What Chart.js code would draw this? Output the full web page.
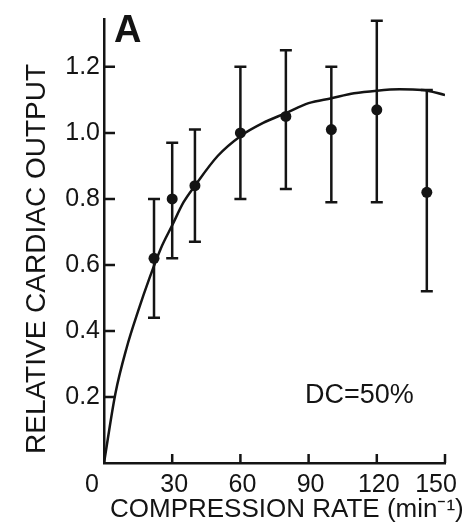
<!DOCTYPE html>
<html>
<head>
<meta charset="utf-8">
<script src="https://cdn.jsdelivr.net/npm/chart.js@4/dist/chart.umd.min.js"></script>
<style>
  html, body { margin: 0; padding: 0; background: #fff; }
  #fig { display: block; }
</style>
</head>
<body>
<canvas id="fig" width="472" height="527"></canvas>
<script>
// measured points (mean with error bar limits)
var rates = [22, 30, 40, 60, 80, 100, 120, 142];
var outputMean = [0.62, 0.80, 0.84, 1.00, 1.05, 1.01, 1.07, 0.82];
var outputHigh = [0.80, 0.97, 1.01, 1.20, 1.25, 1.20, 1.34, 1.13];
var outputLow = [0.44, 0.62, 0.67, 0.80, 0.83, 0.79, 0.79, 0.52];

// fitted curve
var fitRates = [0, 5, 10, 15, 20, 25, 30, 35, 40, 50, 60, 70, 80, 90, 100, 110, 120, 130, 140, 150];
var fitOutput = [0, 0.21, 0.35, 0.46, 0.56, 0.65, 0.72, 0.79, 0.84, 0.93, 0.99, 1.03, 1.06, 1.09, 1.105, 1.12, 1.128, 1.132, 1.13, 1.115];

var xTicks = [0, 30, 60, 90, 120, 150];
var yTicks = [0.2, 0.4, 0.6, 0.8, 1.0, 1.2];

var INK = "#141414";
var FONT = "'Liberation Sans', Arial, sans-serif";

function pairs(xs, ys) {
  return xs.map(function (x, i) { return { x: x, y: ys[i] }; });
}

var figurePlugin = {
  id: "figure",
  afterDatasetsDraw: function (chart) {
    var ctx = chart.ctx;
    var xs = chart.scales.x, ys = chart.scales.y;
    ctx.save();
    ctx.strokeStyle = INK;
    ctx.lineWidth = 2.5;
    ctx.lineCap = "butt";
    // error bars
    for (var i = 0; i < rates.length; i++) {
      var px = xs.getPixelForValue(rates[i]);
      var top = ys.getPixelForValue(outputHigh[i]);
      var bot = ys.getPixelForValue(outputLow[i]);
      ctx.beginPath();
      ctx.moveTo(px, top); ctx.lineTo(px, bot);
      ctx.moveTo(px - 6, top); ctx.lineTo(px + 6, top);
      ctx.moveTo(px - 6, bot); ctx.lineTo(px + 6, bot);
      ctx.stroke();
    }
    // inward tick marks
    var area = chart.chartArea;
    ctx.beginPath();
    yTicks.forEach(function (v) {
      var py = ys.getPixelForValue(v);
      ctx.moveTo(area.left, py); ctx.lineTo(area.left + 11, py);
    });
    xTicks.forEach(function (v) {
      if (v === 0) return;
      var px = xs.getPixelForValue(v);
      ctx.moveTo(px, area.bottom); ctx.lineTo(px, area.bottom - 9);
    });
    ctx.stroke();
    ctx.restore();
  },
  afterDraw: function (chart) {
    var ctx = chart.ctx;
    var xs = chart.scales.x;
    ctx.save();
    ctx.fillStyle = INK;
    ctx.textBaseline = "alphabetic";

    // x tick labels: the origin label sits left of the corner, last one tucked in
    ctx.font = "25px " + FONT;
    ctx.textAlign = "center";
    xTicks.forEach(function (v, i) {
      var shift = i === 0 ? -12 : (i === xTicks.length - 1 ? -9 : 2);
      ctx.fillText(String(v), xs.getPixelForValue(v) + shift, 492);
    });

    ctx.font = "bold 38px " + FONT;
    ctx.textAlign = "left";
    ctx.fillText("A", 114, 42);

    ctx.font = "27px " + FONT;
    ctx.fillText("DC=50%", 305, 403);

    ctx.font = "26px " + FONT;
    ctx.fillText("COMPRESSION RATE (min\u207B\u00B9)", 110, 517);

    ctx.translate(45, 259);
    ctx.rotate(-Math.PI / 2);
    ctx.textAlign = "center";
    ctx.font = "28px " + FONT;
    ctx.fillText("RELATIVE CARDIAC OUTPUT", 0, 0);
    ctx.restore();
  }
};

new Chart(document.getElementById("fig"), {
  type: "scatter",
  data: {
    datasets: [
      {
        label: "fit",
        data: pairs(fitRates, fitOutput),
        showLine: true,
        borderColor: INK,
        borderWidth: 2.5,
        pointRadius: 0,
        cubicInterpolationMode: "monotone",
        fill: false
      },
      {
        label: "measured",
        data: pairs(rates, outputMean),
        pointRadius: 5.5,
        pointBackgroundColor: INK,
        pointBorderColor: INK,
        pointBorderWidth: 0,
        showLine: false
      }
    ]
  },
  options: {
    responsive: false,
    animation: false,
    layout: { padding: { left: 0, top: 10, right: 27, bottom: 0 } },
    plugins: {
      legend: { display: false },
      tooltip: { enabled: false }
    },
    scales: {
      x: {
        type: "linear",
        min: 0,
        max: 150,
        afterBuildTicks: function (s) {
          s.ticks = xTicks.map(function (v) { return { value: v }; });
        },
        afterFit: function (s) { s.height = 64; },
        grid: { display: false, drawTicks: false },
        border: { display: true, color: INK, width: 2.5 },
        ticks: { display: false }
      },
      y: {
        type: "linear",
        min: 0,
        max: 1.345,
        afterBuildTicks: function (s) {
          s.ticks = yTicks.map(function (v) { return { value: v }; });
        },
        afterFit: function (s) { s.width = 104; },
        grid: { display: false, drawTicks: false },
        border: { display: true, color: INK, width: 2.5 },
        ticks: {
          color: INK,
          padding: 4,
          font: { family: FONT, size: 25 },
          callback: function (v) { return v.toFixed(1); }
        }
      }
    }
  },
  plugins: [figurePlugin]
});
</script>
</body>
</html>
